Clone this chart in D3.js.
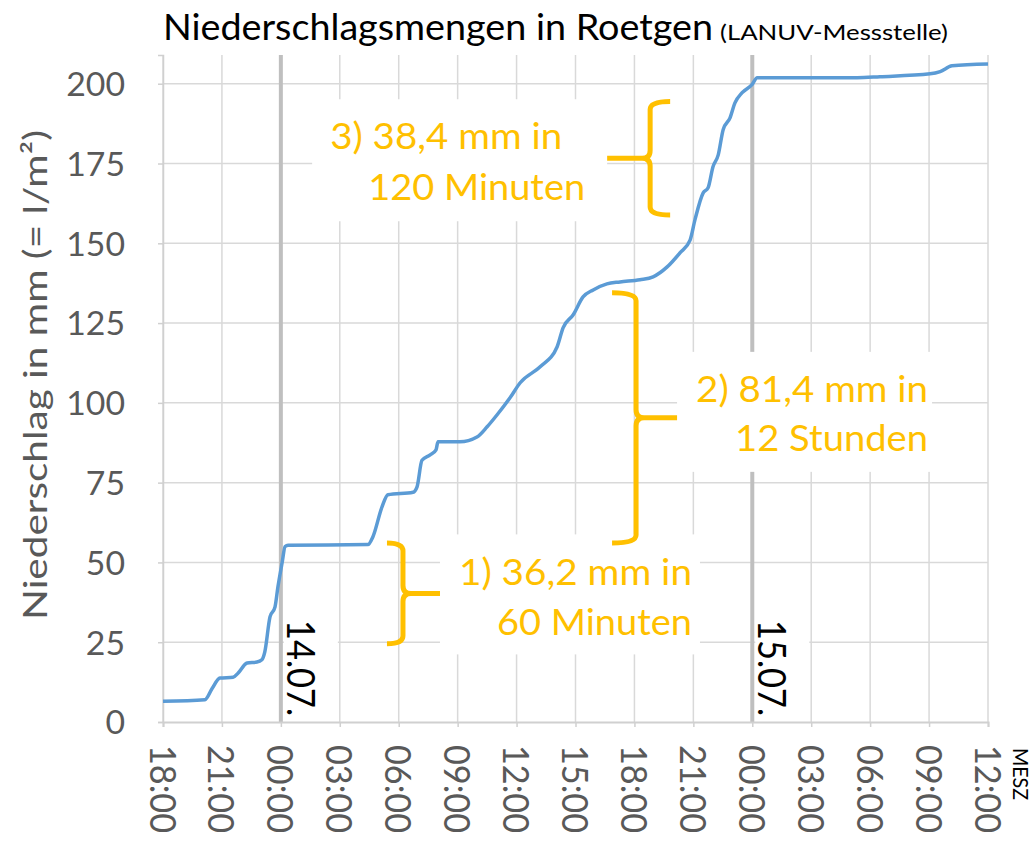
<!DOCTYPE html>
<html>
<head>
<meta charset="utf-8">
<script src="https://cdn.jsdelivr.net/npm/d3@7"></script>
<style>
  body { margin: 0; background: #fff; }
  text { font-family: Lato, "Open Sans", sans-serif; }
</style>
</head>
<body>
<div id="chart"></div>
<script>
var width = 1034,
  height = 841;

// Messzeitpunkte (MESZ) und aufsummierter Niederschlag in mm
var zeiten = [
  "2021-07-13T18:00", "2021-07-13T20:08", "2021-07-13T20:30", "2021-07-13T20:54", "2021-07-13T21:34",
  "2021-07-13T21:49", "2021-07-13T22:17", "2021-07-13T22:47", "2021-07-13T23:02", "2021-07-13T23:11",
  "2021-07-13T23:27", "2021-07-13T23:42", "2021-07-13T23:51", "2021-07-14T00:04", "2021-07-14T00:13",
  "2021-07-14T00:22", "2021-07-14T04:26", "2021-07-14T04:41", "2021-07-14T05:09", "2021-07-14T05:27",
  "2021-07-14T06:44", "2021-07-14T06:56", "2021-07-14T07:11", "2021-07-14T07:36", "2021-07-14T07:54",
  "2021-07-14T08:00", "2021-07-14T09:07", "2021-07-14T09:59", "2021-07-14T10:30", "2021-07-14T11:00",
  "2021-07-14T11:40", "2021-07-14T12:11", "2021-07-14T13:12", "2021-07-14T14:04", "2021-07-14T14:22",
  "2021-07-14T14:53", "2021-07-14T15:23", "2021-07-14T15:54", "2021-07-14T16:36", "2021-07-14T17:16",
  "2021-07-14T18:17", "2021-07-14T18:57", "2021-07-14T19:40", "2021-07-14T20:19", "2021-07-14T20:50",
  "2021-07-14T21:05", "2021-07-14T21:30", "2021-07-14T21:45", "2021-07-14T22:00", "2021-07-14T22:16",
  "2021-07-14T22:31", "2021-07-14T22:52", "2021-07-14T23:07", "2021-07-14T23:29", "2021-07-14T23:59",
  "2021-07-15T00:15", "2021-07-15T05:20", "2021-07-15T06:30", "2021-07-15T09:03", "2021-07-15T09:34",
  "2021-07-15T10:10", "2021-07-15T12:00"
];
var summen = [
  6.5, 7.0, 10.5, 13.8, 14.0,
  15.3, 18.5, 18.8, 19.5, 22.0,
  33.0, 36.0, 42.3, 50.0, 55.0,
  55.4, 55.6, 58.0, 67.4, 71.2,
  72.0, 73.7, 82.0, 83.7, 85.3,
  87.8, 87.8, 89.3, 92.5, 96.2,
  101.6, 106.3, 111.3, 117.6, 123.5,
  127.6, 133.2, 135.4, 137.3, 137.9,
  138.6, 139.5, 142.6, 147.0, 151.0,
  157.4, 165.8, 167.4, 174.0, 177.7,
  185.6, 189.3, 194.0, 197.2, 199.7,
  201.9, 201.9, 202.2, 203.1, 203.8,
  205.6, 206.2
];

var yTicks = [0, 25, 50, 75, 100, 125, 150, 175, 200];
var tage = ["2021-07-14T00:00", "2021-07-15T00:00"];
var tagLabels = ["14.07.", "15.07."];

// Klammern: Zeitpunkt, von/bis in mm, Texte
var hinweisZeiten = ["2021-07-14T06:13", "2021-07-14T18:05", "2021-07-14T18:48"];
var hinweisVon = [24.5, 56.1, 158.9];
var hinweisBis = [56.1, 134.5, 194.4];
var hinweisTexte = [
  ["1) 36,2 mm in", "60 Minuten"],
  ["2) 81,4 mm in", "12 Stunden"],
  ["3) 38,4 mm in", "120 Minuten"]
];

// Layout der Klammern und Textfelder (Pixel relativ zum Klammerende)
var hinweisLayout = [
  { dir: 1, arm: 16, tick: 37, box: [0, -59, 260, 120], lines: [[19, -8, 233], [57, 42, 195]] },
  { dir: 1, arm: 24, tick: 41, box: [0, -66, 255, 120], lines: [[19, -16, 232], [58, 33, 193]] },
  { dir: -1, arm: 20, tick: 43, box: [-295, -59, 295, 122], lines: [[-277, -9, 232], [-239, 42, 217]] }
];

var orange = "#FFC000";
var grau = "#595959";

var parse = d3.timeParse("%Y-%m-%dT%H:%M");
var data = zeiten.map(function (z, i) { return { t: parse(z), v: summen[i] }; });

var svg = d3.select("#chart").append("svg")
  .attr("width", width)
  .attr("height", height);

var x = d3.scaleTime()
  .domain([parse("2021-07-13T18:00"), parse("2021-07-15T12:00")])
  .range([163, 988]);

var y = d3.scaleLinear()
  .domain([0, 209])
  .range([722, 55]);

var xTicks = d3.timeHour.every(3).range(x.domain()[0], d3.timeMinute.offset(x.domain()[1], 1));

// Gitter
svg.append("g").selectAll("line")
  .data(yTicks.slice(1))
  .enter().append("line")
  .attr("x1", x.range()[0]).attr("x2", x.range()[1])
  .attr("y1", function (d) { return y(d); })
  .attr("y2", function (d) { return y(d); })
  .attr("stroke", "#D9D9D9")
  .attr("stroke-width", 1.5);

svg.append("g").selectAll("line")
  .data(xTicks)
  .enter().append("line")
  .attr("x1", function (d) { return x(d); })
  .attr("x2", function (d) { return x(d); })
  .attr("y1", y.range()[1]).attr("y2", y.range()[0])
  .attr("stroke", "#D9D9D9")
  .attr("stroke-width", 1.5);

// Tageswechsel
svg.append("g").selectAll("line")
  .data(tage)
  .enter().append("line")
  .attr("x1", function (d) { return x(parse(d)); })
  .attr("x2", function (d) { return x(parse(d)); })
  .attr("y1", y.range()[1]).attr("y2", y.range()[0])
  .attr("stroke", "#BFBFBF")
  .attr("stroke-width", 4);

// Achsen
var xAxis = svg.append("g")
  .attr("transform", "translate(0," + y(0) + ")")
  .call(d3.axisBottom(x).tickValues(xTicks).tickFormat(d3.timeFormat("%H:%M")).tickSize(5));

xAxis.select(".domain").attr("stroke", "#D0D0D0").attr("stroke-width", 2);
xAxis.selectAll(".tick line").attr("stroke", "#D0D0D0").attr("stroke-width", 1.5);
xAxis.selectAll(".tick text")
  .attr("x", 0).attr("y", 0).attr("dy", null)
  .attr("transform", "translate(0,23) rotate(90)")
  .attr("text-anchor", "start")
  .attr("dominant-baseline", "central")
  .attr("font-size", 36)
  .attr("textLength", 88)
  .attr("lengthAdjust", "spacingAndGlyphs")
  .attr("fill", grau);

var yAxis = svg.append("g")
  .attr("transform", "translate(" + x.range()[0] + ",0)")
  .call(d3.axisLeft(y).tickValues(yTicks).tickSize(5));

yAxis.select(".domain").attr("stroke", "#D0D0D0").attr("stroke-width", 1.5);
yAxis.selectAll(".tick line").attr("stroke", "#D0D0D0").attr("stroke-width", 1.5);
yAxis.selectAll(".tick text")
  .attr("x", -38)
  .attr("dy", "0.36em")
  .attr("font-size", 33)
  .attr("textLength", function (d) { return String(d).length * 19.6; })
  .attr("lengthAdjust", "spacingAndGlyphs")
  .attr("fill", grau);

xAxis.attr("font-family", null);
yAxis.attr("font-family", null);

// Datumsfelder
var tagG = svg.append("g").selectAll("g")
  .data(tage)
  .enter().append("g")
  .attr("transform", function (d) { return "translate(" + x(parse(d)) + ",0)"; });

tagG.append("rect")
  .attr("x", 3).attr("y", 606)
  .attr("width", 54).attr("height", 114)
  .attr("fill", "#fff");

tagG.append("text")
  .attr("transform", "translate(21,620) rotate(90)")
  .attr("dominant-baseline", "central")
  .attr("font-size", 39)
  .attr("textLength", 96)
  .attr("lengthAdjust", "spacingAndGlyphs")
  .attr("fill", "#000")
  .text(function (d, i) { return tagLabels[i]; });

// Kurve
var line = d3.line()
  .x(function (d) { return x(d.t); })
  .y(function (d) { return y(d.v); })
  .curve(d3.curveMonotoneX);

svg.append("path")
  .datum(data)
  .attr("d", line)
  .attr("fill", "none")
  .attr("stroke", "#5B9BD5")
  .attr("stroke-width", 3.5)
  .attr("stroke-linejoin", "round");

// Klammern mit Texten
hinweisZeiten.forEach(function (z, i) {
  var L = hinweisLayout[i],
    bx = x(parse(z)),
    y0 = y(hinweisBis[i]),
    y1 = y(hinweisVon[i]),
    ym = (y0 + y1) / 2,
    d = L.dir,
    r = 8,
    tickEnd = bx + d * L.tick;

  var g = svg.append("g");

  g.append("rect")
    .attr("x", tickEnd + L.box[0]).attr("y", ym + L.box[1])
    .attr("width", L.box[2]).attr("height", L.box[3])
    .attr("fill", "#fff");

  var p = d3.path();
  p.moveTo(bx - d * L.arm, y0);
  p.quadraticCurveTo(bx, y0, bx, y0 + r);
  p.lineTo(bx, ym - r);
  p.quadraticCurveTo(bx, ym, bx + d * r, ym);
  p.lineTo(tickEnd, ym);
  p.moveTo(bx + d * r, ym);
  p.quadraticCurveTo(bx, ym, bx, ym + r);
  p.lineTo(bx, y1 - r);
  p.quadraticCurveTo(bx, y1, bx - d * L.arm, y1);

  g.append("path")
    .attr("d", p.toString())
    .attr("fill", "none")
    .attr("stroke", orange)
    .attr("stroke-width", 5);

  L.lines.forEach(function (ln, k) {
    g.append("text")
      .attr("x", tickEnd + ln[0])
      .attr("y", ym + ln[1])
      .attr("font-size", 36)
      .attr("textLength", ln[2])
      .attr("lengthAdjust", "spacingAndGlyphs")
      .attr("fill", orange)
      .text(hinweisTexte[i][k]);
  });
});

// Titel
svg.append("text")
  .attr("x", 163).attr("y", 40)
  .attr("font-size", 36)
  .attr("textLength", 550)
  .attr("lengthAdjust", "spacingAndGlyphs")
  .attr("fill", "#000")
  .text("Niederschlagsmengen in Roetgen");

svg.append("text")
  .attr("x", 720).attr("y", 40)
  .attr("font-size", 22)
  .attr("textLength", 228)
  .attr("lengthAdjust", "spacingAndGlyphs")
  .attr("fill", "#000")
  .text("(LANUV-Messstelle)");

// Achsentitel
svg.append("text")
  .attr("transform", "translate(34,620) rotate(-90)")
  .attr("dominant-baseline", "central")
  .attr("font-size", 33)
  .attr("textLength", 490)
  .attr("lengthAdjust", "spacingAndGlyphs")
  .attr("fill", grau)
  .text("Niederschlag in mm (= l/m²)");

svg.append("text")
  .attr("transform", "translate(1021,748) rotate(90)")
  .attr("dominant-baseline", "central")
  .attr("font-size", 21)
  .attr("textLength", 52)
  .attr("lengthAdjust", "spacingAndGlyphs")
  .attr("fill", "#000")
  .text("MESZ");
</script>
</body>
</html>
